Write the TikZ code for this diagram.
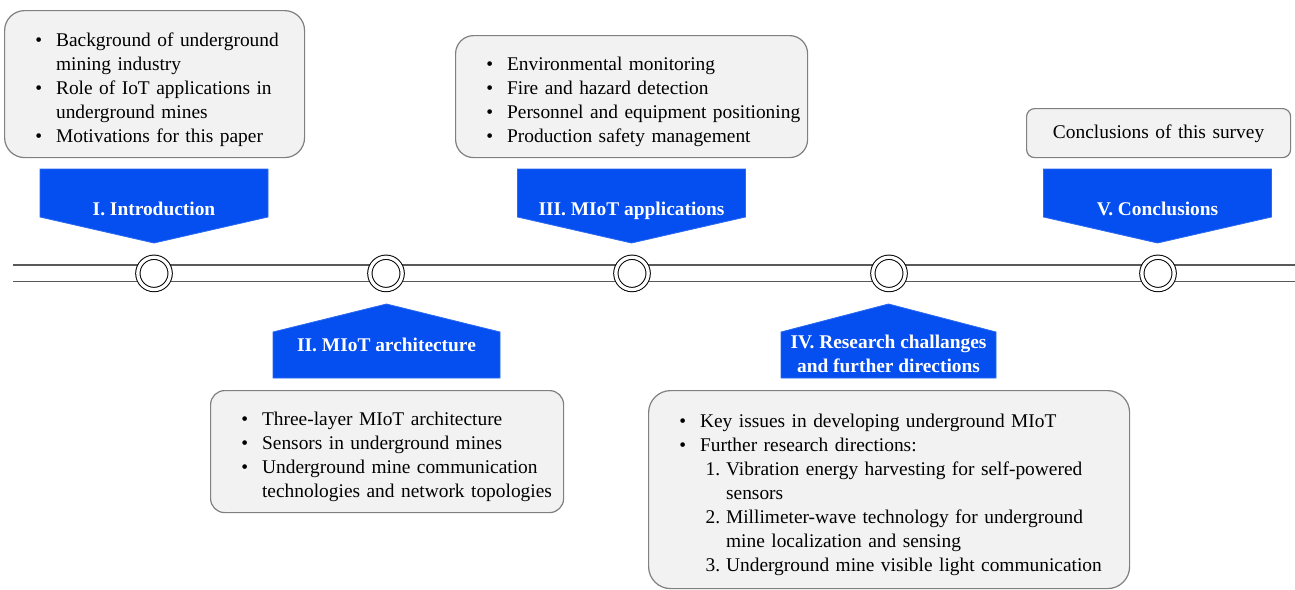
\documentclass[tikz,border=0pt]{standalone}
\usepackage{fontspec}
\setmainfont{Liberation Serif}
\usetikzlibrary{positioning}
\definecolor{bluesez}{RGB}{5,78,240}
\definecolor{grigiobox}{RGB}{242,242,242}

% liste compatte dentro i riquadri
\makeatletter
\def\@listi{\leftmargin 25.75pt \labelsep 7pt \labelwidth\leftmargin \advance\labelwidth-\labelsep
  \topsep\z@ \partopsep\z@ \parsep\z@ \itemsep\z@}
\def\@listii{\leftmargin 13pt \labelsep 3pt \labelwidth\leftmargin \advance\labelwidth-\labelsep
  \topsep\z@ \partopsep\z@ \parsep\z@ \itemsep\z@}
\let\@listI\@listi
\makeatother

\begin{document}
\begin{tikzpicture}[
  x=0.5pt, y=-0.5pt,
  font=\fontsize{9.7}{12}\selectfont,
  riquadro/.style={draw=black!50, fill=grigiobox, line width=0.6pt, inner sep=0pt,
                   align=left, anchor=north west},
  freccia/.style={fill=bluesez, draw=bluesez!85, line width=0.4pt},
  etichetta/.style={text=white, font=\fontsize{9.7}{12}\selectfont\bfseries, align=center},
  riga/.style={text height=7pt, text depth=2pt},
  binario/.style={draw=black!65, line width=0.7pt, double=white, double distance=7.65pt},
  tappa/.style={circle, draw=black, line width=0.5pt, fill=white, double=white,
                double distance=1.65pt, inner sep=0pt, minimum size=16.15pt}
]
\useasboundingbox (0,0) rectangle (1295,589);

% ---- linea del tempo ---------------------------------------------------
\coordinate (inizio) at (13,273.4);
\coordinate (fine) at (1295,273.4);
\draw[binario] (inizio) -- (fine);
\foreach \n/\x in {1/154, 2/386, 3/632, 4/889, 5/1158} {
  \node[tappa] (m\n) at (\x,273.4) {};
}

% ---- sezioni sopra la linea --------------------------------------------
\foreach \n/\x/\testo in {1/154/{I. Introduction}, 3/631.5/{III. MIoT applications},
                          5/1157.5/{V. Conclusions}} {
  \filldraw[freccia] (\x-114,169) -- (\x+114,169) -- (\x+114,217) -- (\x,243)
    -- (\x-114,217) -- cycle;
  \node[etichetta, riga] (sez\n) at (\x,210) {\testo};
}

% ---- sezioni sotto la linea --------------------------------------------
\foreach \x/\mezza in {386.5/113.5, 888.5/107.5} {
  \filldraw[freccia] (\x,304) -- (\x+\mezza,332) -- (\x+\mezza,378) -- (\x-\mezza,378)
    -- (\x-\mezza,332) -- cycle;
}
\node[etichetta, riga] (sez2) at (386.5,346) {II. MIoT architecture};
\node[etichetta] (sez4) at (888.5,353.5) {IV. Research challanges\\and further directions};

% ---- contenuti delle sezioni -------------------------------------------
\node[riquadro, rounded corners=10pt, text width=150pt, minimum height=73.5pt] (b1) at (4,10) {%
  \begin{itemize}
  \item Background of underground\newline mining industry
  \item Role of IoT applications in\newline underground mines
  \item Motivations for this paper
  \end{itemize}};

\node[riquadro, rounded corners=9pt, text width=176pt, minimum height=61pt] (b3) at (455,35) {%
  \begin{itemize}
  \item Environmental monitoring
  \item Fire and hazard detection
  \item Personnel and equipment positioning
  \item Production safety management
  \end{itemize}};

\node[riquadro, riga, rounded corners=4pt, align=center, text width=132pt, minimum height=24.5pt]
  (b5) at (1026,108) {Conclusions of this survey};

\node[riquadro, rounded corners=7pt, text width=176.5pt, minimum height=61pt] (b2) at (210,390) {%
  \begin{itemize}
  \item Three-layer MIoT architecture
  \item Sensors in underground mines
  \item Underground mine communication\newline technologies and network topologies
  \end{itemize}};

\node[riquadro, rounded corners=11pt, text width=240.5pt, minimum height=99pt] (b4) at (648,390) {%
  \begin{itemize}
  \item Key issues in developing underground MIoT
  \item Further research directions:
    \begin{enumerate}
    \item Vibration energy harvesting for self-powered\newline sensors
    \item Millimeter-wave technology for underground\newline mine localization and sensing
    \item Underground mine visible light communication
    \end{enumerate}
  \end{itemize}};

\end{tikzpicture}
\end{document}
